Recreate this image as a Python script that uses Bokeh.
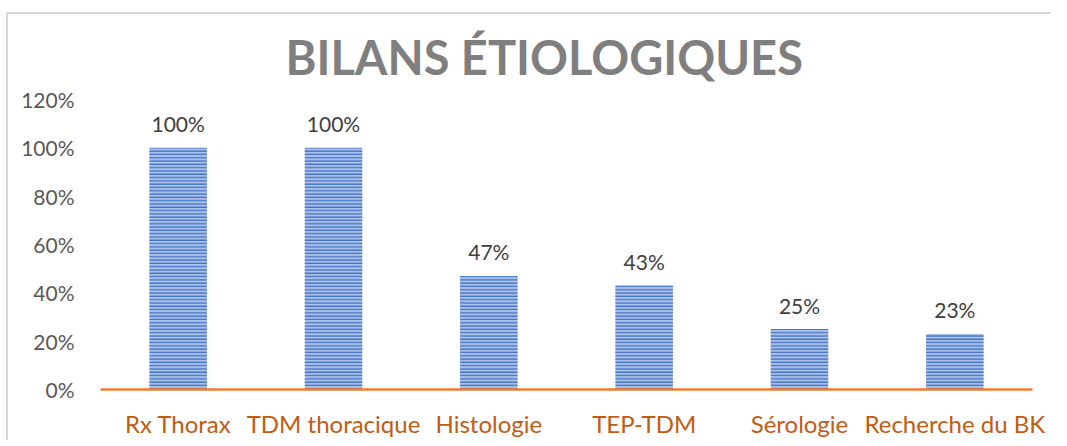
from bokeh.plotting import figure
from bokeh.models import ColumnDataSource, NumeralTickFormatter, FixedTicker
from bokeh.embed import file_html
from bokeh.resources import INLINE
from bokeh.core.properties import value

categories = ["Rx Thorax", "TDM thoracique", "Histologie", "TEP-TDM", "Sérologie", "Recherche du BK"]
values = [1.00, 1.00, 0.47, 0.43, 0.25, 0.23]
labels = ["100%", "100%", "47%", "43%", "25%", "23%"]
y_ticks = [0, 0.2, 0.4, 0.6, 0.8, 1.0, 1.2]

FONT = "Lato"

src = ColumnDataSource(dict(cat=categories, val=values, lab=labels))

p = figure(x_range=categories, y_range=(0, 1.2), width=1051, height=440,
           output_backend="svg", toolbar_location=None,
           min_border_left=100, min_border_right=19, min_border_top=99, min_border_bottom=50)
p.border_fill_color = None
p.styles = {
    "background": "linear-gradient(#d9d9d9, #d9d9d9) 6px 12px / 2px 100% no-repeat, "
                  "linear-gradient(#d9d9d9, #d9d9d9) 6px 12px / 100% 2px no-repeat, white"
}

p.vbar(x="cat", top="val", width=0.37, source=src,
       fill_color="#a9c0ea", line_color=None,
       hatch_pattern="horizontal_line", hatch_color="#4472C4", hatch_scale=3.3, hatch_weight=1.3)

p.text(x="cat", y="val", text="lab", source=src, text_align="center", text_baseline="alphabetic",
       y_offset=-24, text_font=value(FONT), text_font_size="21px", text_color="#404040")

p.xgrid.grid_line_color = None
p.ygrid.grid_line_color = None
p.outline_line_color = None
p.background_fill_color = "white"

p.xaxis.axis_line_color = "#ED7D31"
p.xaxis.axis_line_width = 2.5
p.xaxis.major_tick_line_color = None
p.xaxis.minor_tick_line_color = None
p.xaxis.major_label_text_color = "#C55A11"
p.xaxis.major_label_text_font = FONT
p.xaxis.major_label_text_font_size = "24px"
p.xaxis.major_label_standoff = 13
p.x_range.range_padding = 0

p.yaxis.axis_line_color = None
p.yaxis.major_tick_line_color = None
p.yaxis.minor_tick_line_color = None
p.yaxis.ticker = FixedTicker(ticks=y_ticks)
p.yaxis.formatter = NumeralTickFormatter(format="0%")
p.yaxis.major_label_text_color = "#595959"
p.yaxis.major_label_text_font = FONT
p.yaxis.major_label_text_font_size = "21px"
p.yaxis.major_label_standoff = 20

p.title.text = "BILANS ÉTIOLOGIQUES"
p.title.align = "left"
p.title.offset = 185
p.title.standoff = 30
p.title.text_font = FONT
p.title.text_font_size = "47px"
p.title.text_font_style = "bold"
p.title.text_color = "#7F7F7F"

open("out.html", "w").write(file_html(p, INLINE))
